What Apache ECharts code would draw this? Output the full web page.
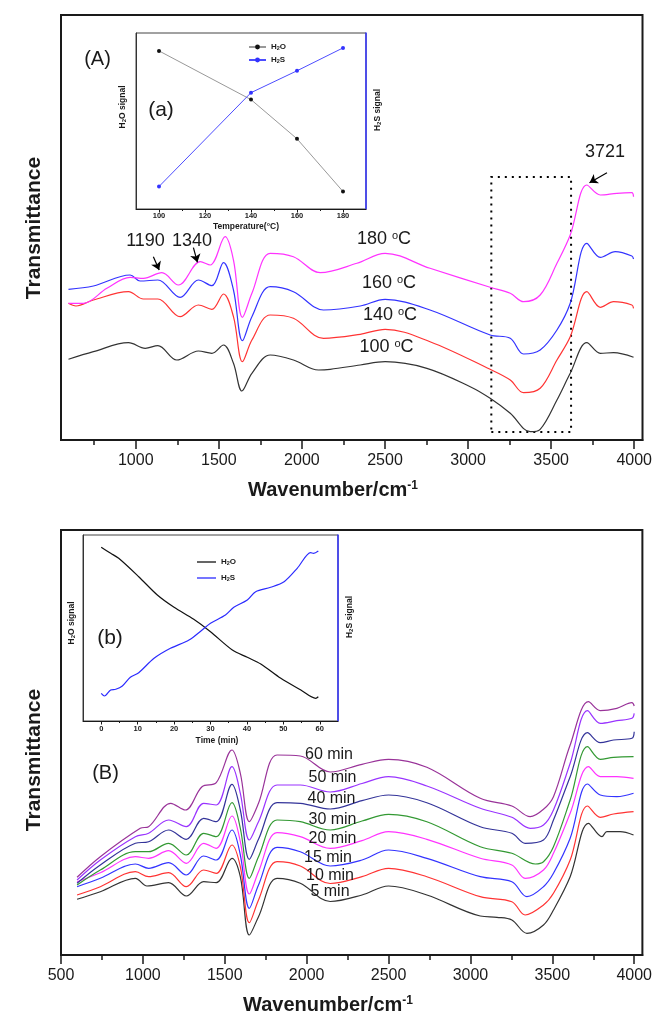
<!DOCTYPE html>
<html><head><meta charset="utf-8">
<script src="https://cdn.jsdelivr.net/npm/echarts@6/dist/echarts.min.js"></script>
<style>html,body{margin:0;padding:0;background:#fff}#c{width:655px;height:1017px}</style>
</head><body><div id="c"></div>
<script>
// ---------- tick values ----------
const topMajorTicks = [1000, 1500, 2000, 2500, 3000, 3500, 4000];
const topMinorTicks = [750, 1250, 1750, 2250, 2750, 3250, 3750];
const bottomMajorTicks = [500, 1000, 1500, 2000, 2500, 3000, 3500, 4000];
const bottomMinorTicks = [750, 1250, 1750, 2250, 2750, 3250, 3750];
const insetATicks = [100, 120, 140, 160, 180];
const insetAMinor = [110, 130, 150, 170];
const insetBTicks = [0, 10, 20, 30, 40, 50, 60];
const insetBMinor = [5, 15, 25, 35, 45, 55];

// ---------- panel (A): spectra at temperatures [wavenumber, transmittance(a.u.)] ----------
const T100 = [[595,80.7],[745,88.3],[956,97.3],[1057,91.7],[1133,94.3],[1247,80],[1377,89],[1458,86.7],[1528,95],[1588,76.7],[1639,49],[1699,66.7],[1809,85],[1949,80],[2100,70],[2170,70.7],[2351,75],[2501,78.3],[2752,71.7],[3013,53.3],[3133,41.7],[3254,26.7],[3374,8.3],[3434,10.7],[3535,40],[3615,66.7],[3715,97.3],[3796,86.7],[3876,87.3],[3996,82.7]];
const T140 = [[595,136.7],[640,134],[745,140],[956,148.3],[1046,141],[1133,141],[1267,123.3],[1377,135],[1458,130.7],[1528,146],[1588,123.3],[1642,78.3],[1699,100],[1809,125],[1949,121.7],[2130,101.7],[2351,105.7],[2501,110.7],[2771,98.3],[3133,70.7],[3254,60],[3334,47.3],[3434,51.7],[3535,80],[3615,103.3],[3715,148.3],[3796,132.7],[3876,138.3],[3986,135],[3996,131.7]];
const T160 = [[595,150.7],[745,154],[966,165],[1026,159],[1133,160],[1267,142.7],[1377,160],[1458,154.3],[1528,177.3],[1588,150],[1642,99.3],[1699,123.3],[1809,153.3],[1949,148.3],[2130,130],[2351,134],[2501,140.7],[2771,130],[3133,105],[3254,101.7],[3334,86],[3434,90],[3535,110],[3615,136.7],[3715,196.7],[3796,182.7],[3886,188.3],[3986,184],[3996,181]];
const T180 = [[595,136.7],[685,136.7],[826,151.7],[966,162.7],[1046,161.7],[1157,167.3],[1257,155],[1388,178.3],[1448,175],[1538,203.3],[1588,180],[1642,122.7],[1699,146.7],[1809,186.7],[1949,183.3],[2110,167.3],[2331,176.7],[2501,186.7],[2771,171.7],[3133,152.7],[3254,146.7],[3334,138.3],[3434,145],[3535,176.7],[3615,205],[3715,255],[3796,245],[3896,246.7],[3986,247.3],[3996,243.3]];

// ---------- panel (B): spectra at times ----------
const M5  = [[598,55.7],[740,63.3],[954,76.7],[1025,69],[1157,72.3],[1265,59],[1371,73.3],[1448,72.3],[1544,96.7],[1595,78.3],[1650,20],[1706,38.3],[1819,76.7],[1961,71.7],[2144,53.5],[2338,60],[2500,69],[2734,60],[3060,39],[3162,37.7],[3253,35],[3345,21.7],[3446,30],[3507,45],[3609,78.3],[3721,131.7],[3803,118.3],[3833,123.3],[3914,123.3],[3996,120]];
const M10 = [[598,60],[740,68.3],[954,83.3],[1035,78.3],[1157,82.3],[1265,68.3],[1371,85],[1448,81.7],[1544,110],[1595,88.3],[1650,32.3],[1706,55],[1819,93.3],[1961,89],[2144,71.5],[2338,78.3],[2500,86.7],[2734,78.3],[3060,58.3],[3253,53.3],[3334,40],[3446,50],[3507,61.7],[3609,95],[3715,149],[3793,137.7],[3874,141],[3996,143.3]];
const M15 = [[598,68.3],[740,76.7],[954,91],[1035,86.7],[1157,92.3],[1265,80],[1371,99],[1448,95],[1544,125],[1595,100],[1650,46.7],[1706,70],[1819,107.7],[1961,103.3],[2144,89],[2338,95],[2500,105],[2734,96.7],[3060,78.3],[3253,73.3],[3345,58.3],[3446,68.3],[3507,81.7],[3609,116.7],[3715,171],[3793,160],[3894,158.3],[3996,161.7]];
const M20 = [[598,73.3],[740,82.3],[954,98.3],[1035,96.7],[1157,104.3],[1265,91.7],[1371,111.7],[1448,106.7],[1544,139],[1595,113.3],[1650,61],[1706,83.3],[1819,122.3],[1961,118.3],[2144,106.7],[2338,114.3],[2500,123.3],[2734,115.7],[3060,96.7],[3253,90],[3334,76.7],[3446,85],[3507,101.7],[3609,141.7],[3721,188.3],[3793,178.3],[3894,178.3],[3996,176.7]];
const M30 = [[598,70],[740,85],[954,103.3],[1035,103.3],[1157,111.7],[1265,100],[1371,121.7],[1448,118.3],[1544,152.3],[1595,126.7],[1650,76.7],[1706,98.3],[1819,135],[1961,133.3],[2144,125],[2338,134],[2500,140.7],[2734,133.3],[3060,108.3],[3253,101.7],[3396,91],[3446,93.3],[3507,108.3],[3609,155],[3715,208.3],[3793,195.7],[3874,197.7],[3996,198.3]];
const M40 = [[598,71.7],[740,90],[954,111.7],[1035,113.3],[1157,125],[1265,115.7],[1371,136.7],[1448,133.3],[1544,170.7],[1595,145],[1650,95.7],[1706,115.7],[1819,152.3],[1961,151.7],[2144,146],[2338,154.3],[2500,160],[2734,152.3],[3060,128.3],[3253,121.7],[3334,111.7],[3446,115],[3507,135],[3609,178.3],[3715,222.3],[3793,212.3],[3874,215],[3986,216.7],[4000,223.3]];
const M50 = [[598,75],[740,95],[954,118.3],[1035,121.7],[1157,135],[1265,128.3],[1371,151.7],[1448,150],[1544,188.3],[1595,161.7],[1650,115],[1706,133.3],[1819,170],[1961,170],[2144,163],[2338,171.5],[2500,178.3],[2734,169],[3060,146.7],[3253,137.7],[3365,126.7],[3446,130],[3507,145],[3609,191.7],[3715,244.3],[3793,231.7],[3894,234.3],[3986,236.7],[4000,241.7]];
const M60 = [[598,77.7],[740,98.3],[984,126.7],[1035,128.3],[1170,151.7],[1259,145],[1361,168.3],[1448,172.3],[1544,205],[1595,181.7],[1650,133.3],[1706,151.7],[1819,200],[1961,199],[2144,183],[2338,190.7],[2500,195.7],[2734,187.7],[3060,156.7],[3253,149],[3365,138.3],[3446,145.7],[3507,158.3],[3609,210],[3721,253.3],[3793,244.3],[3894,246.7],[3986,252.3],[4000,249]];

// ---------- inset (a) ----------
const tempC = [100, 140, 160, 180];
const h2oA = [159, 110, 70.6, 17.6];
const h2sA = [22.6, 117, 139, 162];

// ---------- inset (b) ----------
const h2oB = [[0,173.7],[2.6,167.7],[4.8,162.7],[10.3,144.3],[15.4,126],[20,113.7],[25.4,101.7],[30,89.3],[36,71],[40.1,63.7],[43.8,57],[49.3,42.7],[54.8,31],[58.9,22.7],[59.6,24.3]];
const h2sB = [[0,27.7],[0.9,25],[2.6,31],[4,31.7],[5.8,35],[8,43.7],[10.3,48.3],[14.5,62.7],[19,72.7],[24.1,81],[27.7,91],[30,97.7],[34.1,106],[36.4,113.7],[40.1,121],[42.4,129.3],[46.5,133.7],[50.2,139.3],[53.8,152.7],[57.5,168.3],[58.3,167.7],[59.6,170]];

// ---------- labels ----------
const tempLabels = ['100', '140', '160', '180'];
const timeLabels = ['5 min', '10 min', '15 min', '20 min', '30 min', '40 min', '50 min', '60 min'];

const FONT = '"Liberation Sans", Arial, Helvetica, sans-serif';
const INK = '#1a1a1a';

function mainSeries(name, data, color, xi, yi) {
  return { name, type: 'line', data, xAxisIndex: xi, yAxisIndex: yi, showSymbol: false, symbol: 'none',
    smooth: 0.35, lineStyle: { color, width: 1.2 }, itemStyle: { color }, z: 2, silent: true };
}
function arrow(from, to, size) {
  return [{ coord: from, symbol: 'none' }, { coord: to, symbol: 'arrow', symbolSize: size }];
}
const arrowStyle = (w) => ({ silent: true, symbol: ['none', 'arrow'], label: { show: false },
  lineStyle: { color: '#000', width: w, type: 'solid' }, animation: false });

function T(text, x, y, o) {
  o = o || {};
  return { type: 'text', x, y, rotation: o.rotation || 0, z: 100, silent: true,
    style: { text, fill: o.color || INK, fontSize: o.fontSize || 16, fontWeight: o.fontWeight || 'normal',
      fontFamily: FONT, align: o.align || 'center', verticalAlign: 'middle', rich: o.rich } };
}
const supRich = (fs, bold) => ({ sup: { fontSize: fs, fontFamily: FONT, fontWeight: bold ? 'bold' : 'normal', verticalAlign: 'top', fill: INK } });
const subRich = (fs) => ({ sub: { fontSize: fs, fontFamily: FONT, fontWeight: 'bold', verticalAlign: 'bottom', fill: INK } });

const tempPos = [[386.5, 347], [390, 315], [389, 283], [384, 239]];
const timePos = [[330, 892], [330, 876], [328, 858], [332.5, 839], [332.5, 820], [331.5, 799], [332.5, 778], [329, 755]];

const graphic = [
  T('Transmittance', 34.5, 228, { fontSize: 21, fontWeight: 'bold', rotation: Math.PI / 2 }),
  T('Transmittance', 34.5, 760, { fontSize: 21, fontWeight: 'bold', rotation: Math.PI / 2 }),
  T('Wavenumber/cm{sup|-1}', 333, 490, { fontSize: 20, fontWeight: 'bold', rich: supRich(12, true) }),
  T('Wavenumber/cm{sup|-1}', 328, 1005, { fontSize: 20, fontWeight: 'bold', rich: supRich(12, true) }),
  T('(A)', 97.5, 59, { fontSize: 20 }),
  T('(a)', 161, 110, { fontSize: 21 }),
  T('(B)', 105.5, 773, { fontSize: 20 }),
  T('(b)', 110, 638.5, { fontSize: 21 }),
  T('1190', 145.5, 241, { fontSize: 18 }),
  T('1340', 192, 241, { fontSize: 18 }),
  T('3721', 605, 152, { fontSize: 18 }),
  T('Temperature(°C)', 246, 227, { fontSize: 8.5, fontWeight: 'bold' }),
  T('Time (min)', 217, 741, { fontSize: 8.5, fontWeight: 'bold' }),
  T('H{sub|2}O signal', 123, 107, { fontSize: 8.5, fontWeight: 'bold', rotation: Math.PI / 2, rich: subRich(6) }),
  T('H{sub|2}S signal', 378, 110, { fontSize: 8.5, fontWeight: 'bold', rotation: Math.PI / 2, rich: subRich(6) }),
  T('H{sub|2}O signal', 72, 623, { fontSize: 8.5, fontWeight: 'bold', rotation: Math.PI / 2, rich: subRich(6) }),
  T('H{sub|2}S signal', 350, 617, { fontSize: 8.5, fontWeight: 'bold', rotation: Math.PI / 2, rich: subRich(6) })
];
tempLabels.forEach((t, i) => graphic.push(T(t + ' {sup|o}C', tempPos[i][0], tempPos[i][1], { fontSize: 18, rich: supRich(11, false) })));
timeLabels.forEach((t, i) => graphic.push(T(t, timePos[i][0], timePos[i][1], { fontSize: 16 })));

const plain = v => String(v);
function majorX(gi, min, max, ticks, opts) {
  return { gridIndex: gi, type: 'value', min, max, position: 'bottom', z: opts.z || 0,
    axisLine: { show: true, onZero: false, lineStyle: { color: INK, width: opts.lw } },
    axisTick: { show: true, inside: false, length: opts.tl, lineStyle: { color: INK, width: opts.tw }, customValues: ticks },
    axisLabel: { show: true, margin: opts.margin, fontSize: opts.fs, fontWeight: opts.fw || 'normal', color: INK, fontFamily: FONT, customValues: ticks, formatter: plain },
    splitLine: { show: false } };
}
function minorX(gi, min, max, ticks, tl, tw, z) {
  return { gridIndex: gi, type: 'value', min, max, position: 'bottom', z: z || 0,
    axisLine: { show: false, onZero: false },
    axisTick: { show: true, inside: false, length: tl, lineStyle: { color: INK, width: tw }, customValues: ticks },
    axisLabel: { show: false }, splitLine: { show: false } };
}
function hiddenY(gi, min, max, pos, lineColor, lw, z) {
  return { gridIndex: gi, type: 'value', min, max, position: pos, z: z || 0,
    axisLine: { show: !!lineColor, onZero: false, lineStyle: { color: lineColor || INK, width: lw || 1 } },
    axisTick: { show: false }, axisLabel: { show: false }, splitLine: { show: false } };
}
const legendText = { fontSize: 8, fontWeight: 'bold', fontFamily: FONT, color: INK,
  rich: { sub: { fontSize: 5.5, fontWeight: 'bold', verticalAlign: 'bottom', fontFamily: FONT, color: INK } } };
const legendFmt = n => n.startsWith('H2O') ? 'H{sub|2}O' : 'H{sub|2}S';

const option = {
  animation: false,
  backgroundColor: '#fff',
  grid: [
    { left: 61, top: 15, width: 582, height: 425, show: true, borderColor: INK, borderWidth: 2, backgroundColor: 'transparent', z: 0 },
    { left: 136, top: 33, width: 230, height: 176, show: true, borderColor: '#444', borderWidth: 1, backgroundColor: '#fff', z: 10 },
    { left: 61, top: 530, width: 582, height: 425, show: true, borderColor: INK, borderWidth: 2, backgroundColor: 'transparent', z: 0 },
    { left: 83, top: 535, width: 255, height: 186, show: true, borderColor: '#444', borderWidth: 1, backgroundColor: '#fff', z: 10 }
  ],
  xAxis: [
    majorX(0, 550, 4050, topMajorTicks, { lw: 2, tl: 9, tw: 1.5, margin: 13, fs: 16 }),
    minorX(0, 550, 4050, topMinorTicks, 5, 1.5),
    majorX(1, 90, 190, insetATicks, { lw: 1, tl: 3.5, tw: 1, margin: 3, fs: 7.5, fw: 'bold', z: 11 }),
    minorX(1, 90, 190, insetAMinor, 2, 1, 11),
    majorX(2, 500, 4050, bottomMajorTicks, { lw: 2, tl: 9, tw: 1.5, margin: 13, fs: 16 }),
    minorX(2, 500, 4050, bottomMinorTicks, 5, 1.5),
    majorX(3, -5, 65, insetBTicks, { lw: 1, tl: 3.5, tw: 1, margin: 4, fs: 7.5, fw: 'bold', z: 11 }),
    minorX(3, -5, 65, insetBMinor, 2, 1, 11)
  ],
  yAxis: [
    hiddenY(0, 0, 425, 'left'),
    hiddenY(1, 0, 177, 'left', '#333', 1, 11),
    hiddenY(1, 0, 177, 'right', '#3333ff', 1.5, 11),
    hiddenY(2, 0, 425, 'left'),
    hiddenY(3, 0, 186, 'left', '#333', 1, 11),
    hiddenY(3, 0, 186, 'right', '#3333ff', 1.5, 11)
  ],
  legend: [
    { data: ['H2O_a', 'H2S_a'], orient: 'vertical', left: 243, top: 38, itemWidth: 17, itemHeight: 6, itemGap: 5,
      selectedMode: false, z: 20, formatter: legendFmt, textStyle: legendText },
    { data: [{ name: 'H2O_b', icon: 'rect' }, { name: 'H2S_b', icon: 'rect' }], orient: 'vertical', left: 192, top: 553,
      itemWidth: 19, itemHeight: 1.3, itemGap: 8, selectedMode: false, z: 20, formatter: legendFmt, textStyle: legendText }
  ],
  series: [
    Object.assign(mainSeries('100 °C', T100, '#333333', 0, 0), {
      markArea: { silent: true, itemStyle: { color: 'rgba(0,0,0,0)', borderColor: '#000', borderWidth: 2, borderType: [2, 5] },
        data: [[{ coord: [3140, 8] }, { coord: [3620, 263] }]] },
      markLine: Object.assign(arrowStyle(1.2), { data: [
        arrow([1106, 183.3], [1141, 170], 8),
        arrow([1347, 192.3], [1371, 177.7], 8),
        arrow([3836, 267.3], [3731, 257.3], 8)
      ] })
    }),
    mainSeries('140 °C', T140, '#ff3333', 0, 0),
    mainSeries('160 °C', T160, '#3333ff', 0, 0),
    mainSeries('180 °C', T180, '#ff33ff', 0, 0),
    { name: 'H2O_a', type: 'line', xAxisIndex: 2, yAxisIndex: 1, data: tempC.map((t, i) => [t, h2oA[i]]),
      symbol: 'circle', symbolSize: 4, lineStyle: { color: '#999', width: 1 }, itemStyle: { color: '#111' }, z: 12,
      markLine: Object.assign(arrowStyle(1.5), { data: [ arrow([108, 133.6], [97, 133.6], 9), arrow([166.4, 134.3], [178.6, 134.3], 9) ] }) },
    { name: 'H2S_a', type: 'line', xAxisIndex: 2, yAxisIndex: 2, data: tempC.map((t, i) => [t, h2sA[i]]),
      symbol: 'circle', symbolSize: 4, lineStyle: { color: '#4d4dff', width: 1 }, itemStyle: { color: '#3333ff' }, z: 12 },
    mainSeries('5 min', M5, '#333333', 4, 3),
    mainSeries('10 min', M10, '#ff3333', 4, 3),
    mainSeries('15 min', M15, '#3333ff', 4, 3),
    mainSeries('20 min', M20, '#ff33ff', 4, 3),
    mainSeries('30 min', M30, '#339933', 4, 3),
    mainSeries('40 min', M40, '#333399', 4, 3),
    mainSeries('50 min', M50, '#9933ff', 4, 3),
    mainSeries('60 min', M60, '#993399', 4, 3),
    { name: 'H2O_b', type: 'line', xAxisIndex: 6, yAxisIndex: 4, data: h2oB, symbol: 'none', smooth: 0.3,
      lineStyle: { color: '#111', width: 1.2 }, itemStyle: { color: '#111' }, z: 12,
      markLine: Object.assign(arrowStyle(1.5), { data: [ arrow([7.5, 123], [-0.8, 123], 9), arrow([48.6, 126], [58.3, 126], 9) ] }) },
    { name: 'H2S_b', type: 'line', xAxisIndex: 6, yAxisIndex: 5, data: h2sB, symbol: 'none', smooth: 0.3,
      lineStyle: { color: '#2b2bff', width: 1.2 }, itemStyle: { color: '#2b2bff' }, z: 12 }
  ],
  graphic
};

const chart = echarts.init(document.getElementById('c'), null, { renderer: 'canvas' });
chart.setOption(option);
</script></body></html>
